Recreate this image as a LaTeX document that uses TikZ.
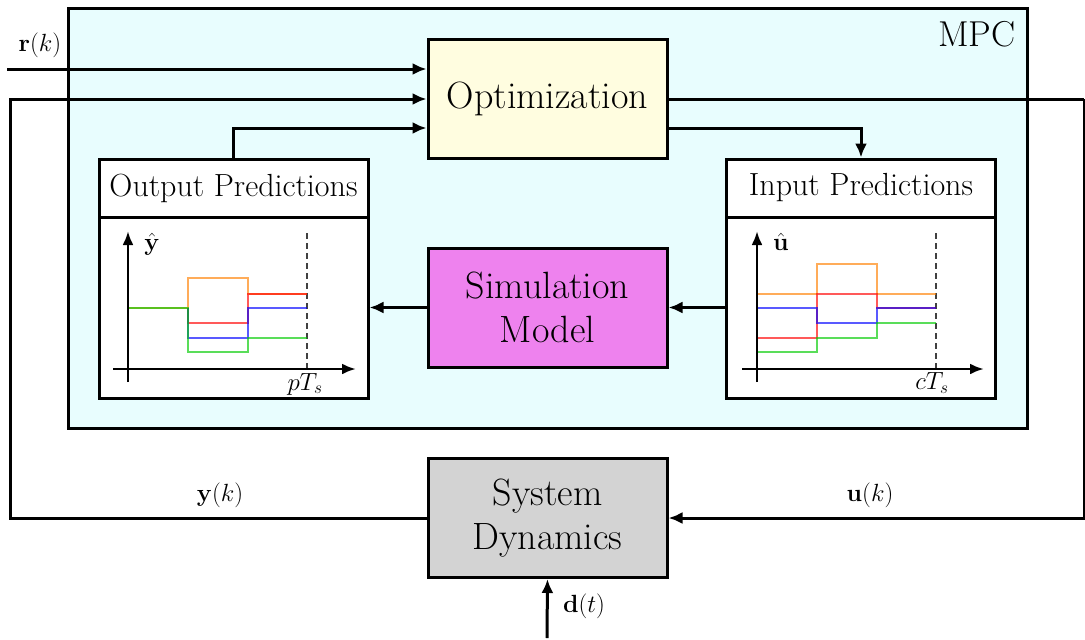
\documentclass[tikz,border=0pt]{standalone}
\usepackage{amsmath}
\usetikzlibrary{arrows.meta}
\definecolor{mpcbg}{HTML}{E8FDFE}
\definecolor{optbg}{HTML}{FFFDE0}
\definecolor{simbg}{HTML}{EE82EE}
\definecolor{sysbg}{HTML}{D3D3D3}
\begin{document}
\begin{tikzpicture}[x=1pt,y=-1pt,
  box/.style={draw,line width=3pt,minimum width=239pt,minimum height=119pt,align=center,inner sep=0pt,font=\fontsize{38}{44}\selectfont},
  titlebox/.style={draw,fill=white,line width=3pt,minimum width=269pt,minimum height=58pt,inner sep=0pt,font=\fontsize{32}{38}\selectfont},
  plotbox/.style={draw,fill=white,line width=3pt,minimum width=269pt,minimum height=181pt,inner sep=0pt},
  conn/.style={line width=3pt},
  arr/.style={conn,-{Latex[length=14pt,width=12pt]}},
  axis/.style={line width=2.8pt,-{Latex[length=14pt,width=11pt]}},
  lbl/.style={font=\fontsize{27}{32}\selectfont},
  tr/.style={line width=1.6pt,opacity=0.65},
  horizon/.style={line width=1.4pt,dash pattern=on 6pt off 4pt,black!75}]
\useasboundingbox (0,0) rectangle (1085,640);
% MPC container
\node[draw,fill=mpcbg,line width=3pt,minimum width=959pt,minimum height=420pt,inner sep=0pt] (mpc) at (547.5,218) {};
\node[anchor=base east,font=\fontsize{36}{42}\selectfont] (mpclbl) at (1019,46) {MPC};
% blocks
\node[box,fill=optbg] (opt) at (547.5,98.5) {Optimization};
\node[box,fill=simbg] (sim) at (547.5,307.5) {Simulation\\Model};
\node[box,fill=sysbg] (sys) at (547.5,518) {System\\Dynamics};
\node[titlebox] (outT) at (233.5,188) {Output Predictions};
\node[plotbox] (outP) at (233.5,307.5) {};
\node[titlebox] (inT) at (861,188) {Input Predictions};
\node[plotbox] (inP) at (861,307.5) {};
% coordinates
\coordinate (rin) at (7,69);
\coordinate (fbA) at (10,518);
\coordinate (fbB) at (10,99);
\coordinate (uA) at (1084,99);
\coordinate (dIn) at (547,638);
% connectors
\draw[arr] (rin) -- (rin -| opt.west);
\draw[arr] (sys.west) -- (fbA) -- (fbB) -- (fbB -| opt.west);
\draw[arr] (outT.north) |- ([yshift=-29.5pt]opt.west);
\draw[conn] (uA -| opt.east) -- (uA);
\draw[arr] (uA) |- (sys.east);
\draw[arr] ([yshift=-29.5pt]opt.east) -| (inT.north);
\draw[arr] (inP.west |- sim.east) -- (sim.east);
\draw[arr] (sim.west) -- (sim.west -| outP.east);
\draw[arr] (dIn) -- (sys.south);
% signal labels
\node[lbl] (rlbl) at (40,45) {$\mathbf{r}(k)$};
\node[lbl] (ylbl) at (220,495) {$\mathbf{y}(k)$};
\node[lbl] (ulbl) at (870,495) {$\mathbf{u}(k)$};
\node[lbl] (dlbl) at (584,606) {$\mathbf{d}(t)$};
% output prediction plot
\draw[horizon] (307,233) -- (307,369);
\draw[tr,orange] (128,308) -- (188,308) -- (188,278) -- (248,278) -- (248,294) -- (307,294);
\draw[tr,red] (188,308) -- (188,323) -- (248,323) -- (248,294) -- (307,294);
\draw[tr,blue] (188,308) -- (188,338) -- (248,338) -- (248,308) -- (307,308);
\draw[tr,green!80!black] (128,308) -- (188,308) -- (188,352) -- (248,352) -- (248,338) -- (307,338);
\draw[axis] (128,382) -- (128,231);
\draw[axis] (113,369) -- (356,369);
\node[lbl] (yhat) at (152,244) {$\hat{\mathbf{y}}$};
\node[lbl] (pTs) at (305,384) {$pT_s$};
% input prediction plot
\draw[horizon] (936,233) -- (936,369);
\draw[tr,orange] (757,294) -- (817,294) -- (817,264) -- (877,264) -- (877,294) -- (936,294);
\draw[tr,red] (757,338) -- (817,338) -- (817,294) -- (877,294) -- (877,308) -- (936,308);
\draw[tr,blue] (757,308) -- (817,308) -- (817,323) -- (877,323) -- (877,308) -- (936,308);
\draw[tr,green!80!black] (757,352) -- (817,352) -- (817,338) -- (877,338) -- (877,323) -- (936,323);
\draw[axis] (757,382) -- (757,231);
\draw[axis] (742,369) -- (984,369);
\node[lbl] (uhat) at (781,242) {$\hat{\mathbf{u}}$};
\node[lbl] (cTs) at (932,383) {$cT_s$};
\end{tikzpicture}
\end{document}
